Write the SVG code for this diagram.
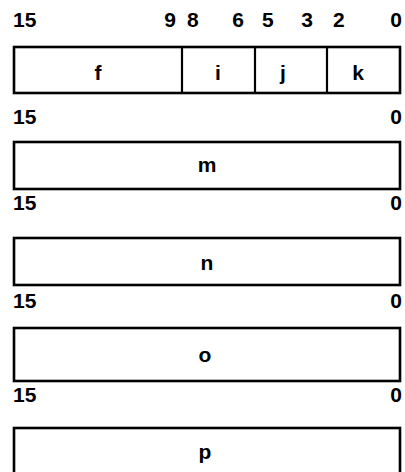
<svg xmlns="http://www.w3.org/2000/svg" width="405" height="472" viewBox="0 0 405 472">
<style>
.t{font-family:"Liberation Sans",Arial,sans-serif;font-weight:bold;font-size:21px;fill:#000}
.m{text-anchor:middle}
.e{text-anchor:end}
.b{fill:#fff;stroke:#000;stroke-width:2.6}
.d{stroke:#000;stroke-width:2.2}
</style>
<rect width="405" height="472" fill="#fff"/>
<g id="labels">
<text class="t" x="13" y="27">15</text>
<text class="t e" x="176" y="27">9</text>
<text class="t" x="187" y="27">8</text>
<text class="t e" x="244" y="27">6</text>
<text class="t" x="262" y="27">5</text>
<text class="t e" x="313" y="27">3</text>
<text class="t" x="333" y="27">2</text>
<text class="t e" x="402" y="27">0</text>
<text class="t" x="13" y="124">15</text>
<text class="t e" x="402" y="124">0</text>
<text class="t" x="13" y="210">15</text>
<text class="t e" x="402" y="210">0</text>
<text class="t" x="13" y="308">15</text>
<text class="t e" x="402" y="308">0</text>
<text class="t" x="13" y="402">15</text>
<text class="t e" x="402" y="402">0</text>
</g>
<g id="reg1">
<rect class="b" x="14" y="47" width="386" height="46"/>
<line class="d" x1="182" y1="47" x2="182" y2="93"/>
<line class="d" x1="255" y1="47" x2="255" y2="93"/>
<line class="d" x1="327" y1="47" x2="327" y2="93"/>
<text class="t m" x="98" y="80">f</text>
<text class="t m" x="218" y="80">i</text>
<text class="t m" x="283" y="80">j</text>
<text class="t m" x="358" y="80">k</text>
</g>
<g id="reg-m">
<rect class="b" x="14" y="142" width="386" height="47"/>
<text class="t m" x="207" y="172">m</text>
</g>
<g id="reg-n">
<rect class="b" x="14" y="238" width="386" height="47"/>
<text class="t m" x="207" y="270">n</text>
</g>
<g id="reg-o">
<rect class="b" x="14" y="328" width="386" height="53"/>
<text class="t m" x="205" y="362">o</text>
</g>
<g id="reg-p">
<rect class="b" x="14" y="428" width="386" height="60"/>
<text class="t m" x="205" y="459">p</text>
</g>
<g id="connectors"/>
</svg>
